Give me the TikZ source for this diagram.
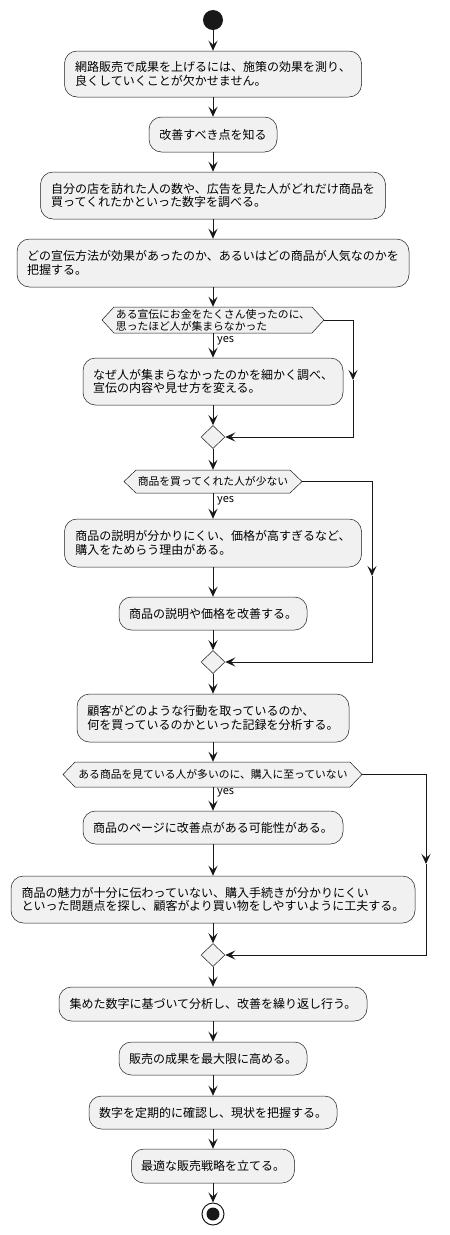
\documentclass[tikz,border=0pt]{standalone}
\usepackage{fontspec}
\setmainfont{Noto Sans CJK JP}
\usetikzlibrary{arrows.meta,shapes.geometric}
\definecolor{fillc}{HTML}{F1F1F1}
\definecolor{linec}{HTML}{181818}
\begin{document}
\begin{tikzpicture}[x=1pt,y=-1pt,
 act/.style={draw=linec, line width=0.5pt, fill=fillc, rounded corners=12.5pt, inner sep=0pt, align=left, font=\fontsize{12pt}{13.2pt}\selectfont},
 dtext/.style={inner sep=0pt, align=left, font=\fontsize{10.8pt}{12pt}\selectfont},
 hex/.style={draw=linec, line width=0.5pt, fill=fillc},
 merge/.style={diamond, draw=linec, line width=0.5pt, fill=fillc, inner sep=0pt, minimum width=24pt, minimum height=23pt},
 arr/.style={draw=linec, line width=1pt, -{Stealth[length=10pt,width=9pt,inset=4pt]}},
 lbl/.style={font=\fontsize{11pt}{12pt}\selectfont, inner sep=0pt, anchor=west}
]
\useasboundingbox (0,0) rectangle (450,1235);

% start
\node[circle, fill=linec, minimum size=20pt, inner sep=0pt] (start) at (213,20) {};

\node[act, minimum width=297pt, minimum height=46pt] (b1) at (213,74) {網路販売で成果を上げるには、施策の効果を測り、\\良くしていくことが欠かせません。};
\node[act, minimum width=128pt, minimum height=35pt] (b2) at (213,134.5) {改善すべき点を知る};
\node[act, minimum width=345pt, minimum height=47pt] (b3) at (213,195.5) {自分の店を訪れた人の数や、広告を見た人がどれだけ商品を\\買ってくれたかといった数字を調べる。};
\node[act, minimum width=392pt, minimum height=48pt] (b4) at (213,263) {どの宣伝方法が効果があったのか、あるいはどの商品が人気なのかを\\把握する。};

% decision 1
\path[hex] (102,320) -- (114,307) -- (312,307) -- (324,320) -- (312,333) -- (114,333) -- cycle;
\node[dtext, minimum width=198pt, minimum height=26pt] (d1) at (213,320) {ある宣伝にお金をたくさん使ったのに、\\思ったほど人が集まらなかった};
\coordinate (d1R) at (324,320);
\node[lbl] (y1) at (217,341) {yes};
\node[act, minimum width=260pt, minimum height=47pt] (b5) at (213,381.5) {なぜ人が集まらなかったのかを細かく調べ、\\宣伝の内容や見せ方を変える。};
\node[merge] (m1) at (213,437) {};

% decision 2
\path[hex] (124,481.5) -- (136,470) -- (290,470) -- (302,481.5) -- (290,493) -- (136,493) -- cycle;
\node[dtext, minimum width=154pt, minimum height=23pt] (d2) at (213,481.5) {商品を買ってくれた人が少ない};
\coordinate (d2R) at (302,481.5);
\node[lbl] (y2) at (217,501) {yes};
\node[act, minimum width=297pt, minimum height=48pt] (b6) at (213,543) {商品の説明が分かりにくい、価格が高すぎるなど、\\購入をためらう理由がある。};
\node[act, minimum width=188pt, minimum height=33pt] (b7) at (213,613.5) {商品の説明や価格を改善する。};
\node[merge] (m2) at (213,662) {};

\node[act, minimum width=272pt, minimum height=48pt] (b8) at (213,718) {顧客がどのような行動を取っているのか、\\何を買っているのかといった記録を分析する。};

% decision 3
\path[hex] (63,774.5) -- (75,762) -- (350,762) -- (362,774.5) -- (350,787) -- (75,787) -- cycle;
\node[dtext, minimum width=275pt, minimum height=25pt] (d3) at (213,774.5) {ある商品を見ている人が多いのに、購入に至っていない};
\coordinate (d3R) at (362,774.5);
\node[lbl] (y3) at (217,793) {yes};
\node[act, minimum width=260pt, minimum height=33pt] (b9) at (213,827.5) {商品のページに改善点がある可能性がある。};
\node[act, minimum width=404pt, minimum height=47pt] (b10) at (213,899.5) {商品の魅力が十分に伝わっていない、購入手続きが分かりにくい\\といった問題点を探し、顧客がより買い物をしやすいように工夫する。};
\node[merge] (m3) at (213,955) {};

\node[act, minimum width=308pt, minimum height=34pt] (b11) at (213,1004) {集めた数字に基づいて分析し、改善を繰り返し行う。};
\node[act, minimum width=188pt, minimum height=33pt] (b12) at (213,1058.5) {販売の成果を最大限に高める。};
\node[act, minimum width=248pt, minimum height=33pt] (b13) at (213,1112.5) {数字を定期的に確認し、現状を把握する。};
\node[act, minimum width=163pt, minimum height=34pt] (b14) at (213,1166) {最適な販売戦略を立てる。};

% end
\node[circle, draw=linec, line width=1pt, fill=white, minimum size=22pt, inner sep=0pt] (end) at (213,1214) {};
\node[circle, fill=linec, minimum size=13pt, inner sep=0pt] (endi) at (213,1214) {};

% main flow
\draw[arr] (start) -- (b1);
\draw[arr] (b1) -- (b2);
\draw[arr] (b2) -- (b3);
\draw[arr] (b3) -- (b4);
\draw[arr] (b4) -- (d1);
\draw[arr] (d1) -- (b5);
\draw[arr] (b5) -- (m1);
\draw[arr] (m1) -- (d2);
\draw[arr] (d2) -- (b6);
\draw[arr] (b6) -- (b7);
\draw[arr] (b7) -- (m2);
\draw[arr] (m2) -- (b8);
\draw[arr] (b8) -- (d3);
\draw[arr] (d3) -- (b9);
\draw[arr] (b9) -- (b10);
\draw[arr] (b10) -- (m3);
\draw[arr] (m3) -- (b11);
\draw[arr] (b11) -- (b12);
\draw[arr] (b12) -- (b13);
\draw[arr] (b13) -- (b14);
\draw[arr] (b14) -- (end);

% side branches
\coordinate (c1a) at (353,320);
\coordinate (c1m) at (353,380);
\coordinate (c1b) at (353,437);
\draw[arr] (d1R) -- (c1a) -- (c1m);
\draw[arr] (c1m) -- (c1b) -- (m1.east);

\coordinate (c2a) at (372,481.5);
\coordinate (c2m) at (372,576);
\coordinate (c2b) at (372,662);
\draw[arr] (d2R) -- (c2a) -- (c2m);
\draw[arr] (c2m) -- (c2b) -- (m2.east);

\coordinate (c3a) at (426,774.5);
\coordinate (c3m) at (426,864);
\coordinate (c3b) at (426,955);
\draw[arr] (d3R) -- (c3a) -- (c3m);
\draw[arr] (c3m) -- (c3b) -- (m3.east);
\end{tikzpicture}
\end{document}
